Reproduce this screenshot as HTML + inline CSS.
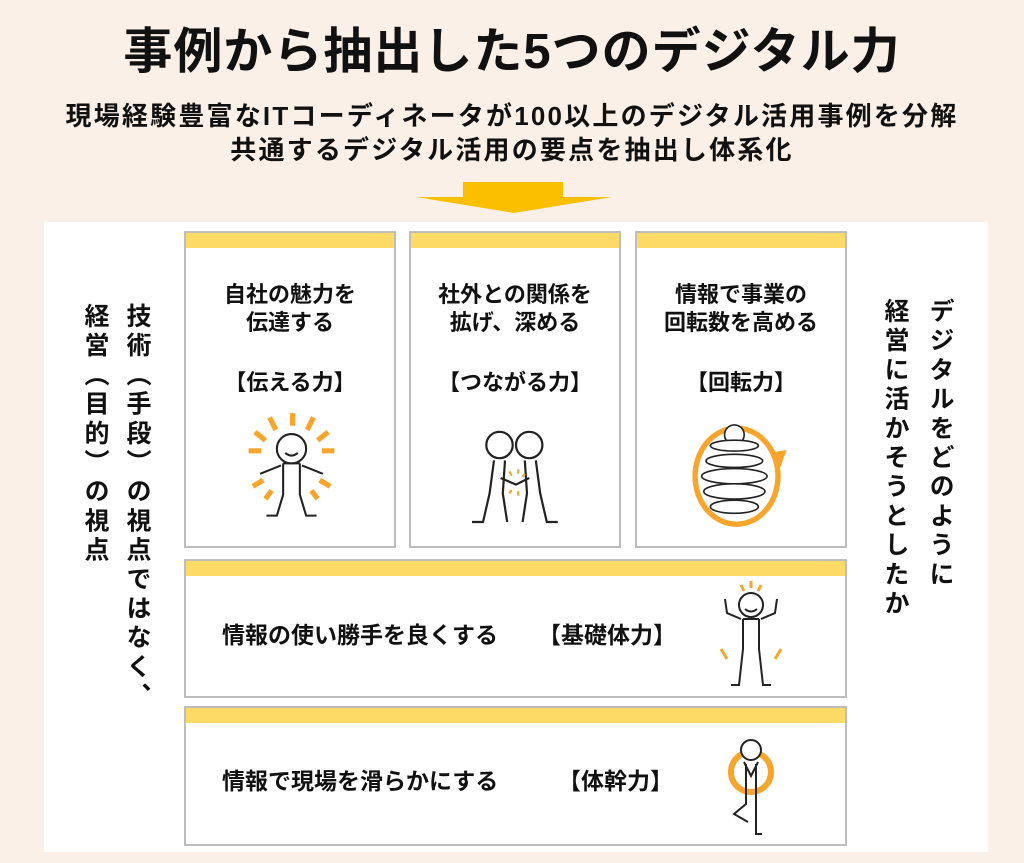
<!DOCTYPE html>
<html><head><meta charset="utf-8"><style>
*{margin:0;padding:0;box-sizing:border-box}
body{width:1024px;height:863px;background:#fbf0e8;position:relative;overflow:hidden;font-family:"Liberation Sans","Noto Sans CJK JP",sans-serif;color:#111;font-weight:bold}
.a{position:absolute}
.title{left:0;width:1024px;top:22px;text-align:center;font-size:49px;line-height:60px;letter-spacing:1px}
.sub{left:0;width:1024px;text-align:center;font-size:26px;line-height:34px;letter-spacing:2.2px}
.panel{left:44px;top:222px;width:944px;height:630px;background:#fff}
.box{position:absolute;background:#fff;border:2px solid #bdbdbd}
.box:before{content:"";position:absolute;left:0;right:0;top:0;height:15px;background:#fdd965}
.t{position:absolute;left:0;right:0;text-align:center;font-size:22px;line-height:28px;font-weight:600}
.v{position:absolute;writing-mode:vertical-rl;font-size:25px;line-height:28px;letter-spacing:4.2px}
</style></head><body>
<div class="a title">事例から抽出した5つのデジタル力</div>
<div class="a sub" style="top:99px">現場経験豊富なITコーディネータが100以上のデジタル活用事例を分解</div>
<div class="a sub" style="top:133px">共通するデジタル活用の要点を抽出し体系化</div>
<svg class="a" style="left:0;top:0" width="1024" height="230"><rect x="463" y="182" width="100" height="16" fill="#fbbf00"/><polygon points="416,197 612,197 514,213" fill="#fbbf00"/></svg>
<div class="a panel"></div>
<div class="v" style="left:123px;top:303px">技術（手段）の視点ではなく、</div>
<div class="v" style="left:81px;top:303px">経営（目的）の視点</div>
<div class="v" style="left:926px;top:298px">デジタルをどのように</div>
<div class="v" style="left:881px;top:298px">経営に活かそうとしたか</div>

<div class="box" style="left:184px;top:231px;width:212px;height:317px">
<div class="t" style="top:48px">自社の魅力を<br>伝達する</div><div class="t" style="top:136px">【伝える力】</div>
<svg class="a" style="left:48px;top:176px" width="115" height="115" viewBox="0 0 110 110" fill="none" stroke="#222" stroke-width="2">
<g stroke="#f7a52c" stroke-width="5"><path d="M34 8l6 12M56 4v12M76 8l-6 12M20 22l10 8M90 22l-10 8M14 40h12M96 40H84M18 74l10-6M92 74l-10-6M30 86l6-8M80 86l-6-8"/></g>
<circle cx="55" cy="38" r="14" fill="#fff"/><path d="M49 42q6 5 12 0"/><path d="M45 54l-20 8M65 54l20 8M47 52v30l-6 20h-10M63 52v30l6 20h10M47 52h16"/></svg>
</div>
<div class="box" style="left:409px;top:231px;width:212px;height:317px">
<div class="t" style="top:48px">社外との関係を<br>拡げ、深める</div><div class="t" style="top:136px">【つながる力】</div>
<svg class="a" style="left:50px;top:190px" width="110" height="110" viewBox="0 0 100 100" fill="none" stroke="#222" stroke-width="2">
<circle cx="35" cy="20" r="12" fill="#fff"/><circle cx="62" cy="20" r="12" fill="#fff"/>
<path d="M30 34l-4 30-6 26h-10M40 34l-2 30 4 26M58 34l2 30-4 26M68 34l4 30 6 26h10M36 50l14 6 12-6"/>
<g stroke="#f7a52c" stroke-width="2"><path d="M44 44l2 4M52 42v4M58 46l-2 3M44 64l2-3M52 66v-4"/></g></svg>
</div>
<div class="box" style="left:635px;top:231px;width:212px;height:317px">
<div class="t" style="top:48px">情報で事業の<br>回転数を高める</div><div class="t" style="top:136px">【回転力】</div>
<svg class="a" style="left:45px;top:186px" width="120" height="110" viewBox="0 0 110 100" fill="none" stroke="#222" stroke-width="1.5">
<ellipse cx="50" cy="52" rx="38" ry="44" stroke="#f7a52c" stroke-width="5"/>
<polygon points="84,30 96,28 90,44" fill="#f7a52c" stroke="none"/>
<circle cx="48" cy="14" r="9" fill="#fff"/><g fill="#fff"><ellipse cx="48" cy="24" rx="22" ry="5"/><ellipse cx="48" cy="38" rx="26" ry="6"/><ellipse cx="48" cy="52" rx="30" ry="7"/><ellipse cx="48" cy="66" rx="28" ry="7"/><ellipse cx="48" cy="80" rx="22" ry="6"/></g></svg>
</div>
<div class="box" style="left:184px;top:559px;width:663px;height:139px">
<div class="t" style="top:60px;left:36px;right:auto;font-size:23px">情報の使い勝手を良くする</div>
<div class="t" style="top:60px;left:352px;right:auto;font-size:23px">【基礎体力】</div>
<svg class="a" style="left:525px;top:18px" width="80" height="115" fill="none" stroke="#222" stroke-width="2">
<g stroke="#f7a52c" stroke-width="3"><path d="M30 6l3 6M40 2v7M50 6l-3 6M10 70l6 10M70 70l-6 10"/></g>
<circle cx="40" cy="26" r="12" fill="#fff"/><path d="M34 30q6 5 12 0M30 40l-14-6-2-14M50 40l14-6 2-14M32 40v30l-4 36h-8M48 40v30l4 36h8M32 40h16"/></svg>
</div>
<div class="box" style="left:184px;top:706px;width:663px;height:140px">
<div class="t" style="top:59px;left:36px;right:auto;font-size:23px">情報で現場を滑らかにする</div>
<div class="t" style="top:59px;left:372px;right:auto;font-size:23px">【体幹力】</div>
<svg class="a" style="left:530px;top:22px" width="70" height="115" fill="none" stroke="#222" stroke-width="2">
<circle cx="35" cy="42" r="20" stroke="#f7a52c" stroke-width="6"/>
<circle cx="35" cy="20" r="10" fill="#fff"/><path d="M28 32l7 14 7-14M30 34v40l-12 10 14 8M40 34v40v30h6"/></svg>
</div>
</body></html>
